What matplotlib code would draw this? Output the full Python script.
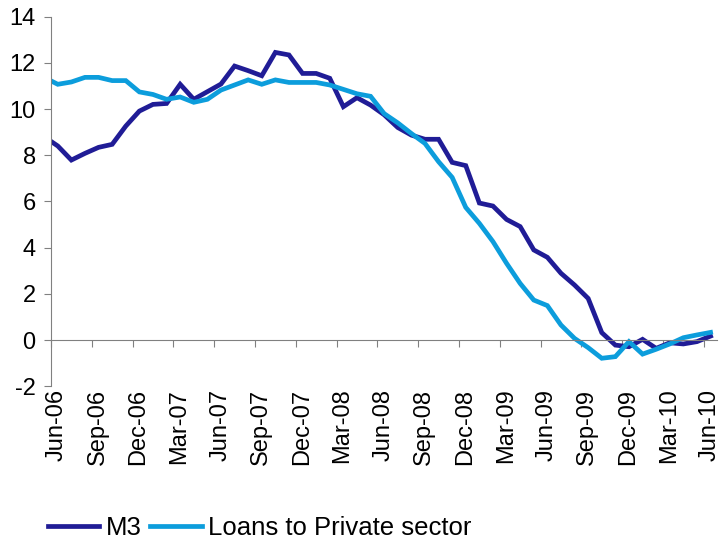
import matplotlib.pyplot as plt
import matplotlib.transforms as mtransforms
import numpy as np

plt.rcParams['font.family'] = ['Liberation Sans', 'DejaVu Sans']
plt.rcParams['axes.unicode_minus'] = False

# monthly growth rates (%), first value is May-06 (partly hidden behind the axis)
m3 = [8.8, 8.4, 7.79, 8.08, 8.34, 8.47, 9.26, 9.91, 10.2, 10.24,
      11.07, 10.42, 10.75, 11.08, 11.86, 11.66, 11.44, 12.45, 12.34, 11.54,
      11.54, 11.33, 10.1, 10.49, 10.17, 9.75, 9.2, 8.87, 8.69, 8.69,
      7.69, 7.55, 5.93, 5.8, 5.22, 4.91, 3.9, 3.58, 2.89, 2.38,
      1.8, 0.32, -0.22, -0.29, 0.03, -0.36, -0.12, -0.17, -0.07, 0.17]
loans = [11.37, 11.07, 11.17, 11.37, 11.37, 11.23, 11.23, 10.74, 10.63, 10.42,
         10.52, 10.29, 10.42, 10.82, 11.04, 11.26, 11.07, 11.26, 11.15, 11.15,
         11.15, 11.04, 10.85, 10.66, 10.55, 9.8, 9.4, 8.94, 8.51, 7.72,
         7.04, 5.74, 5.05, 4.26, 3.32, 2.45, 1.73, 1.49, 0.65, 0.07,
         -0.33, -0.79, -0.72, -0.07, -0.61, -0.4, -0.17, 0.1, 0.22, 0.33]
tick_labels = ['Jun-06', 'Sep-06', 'Dec-06', 'Mar-07', 'Jun-07', 'Sep-07',
               'Dec-07', 'Mar-08', 'Jun-08', 'Sep-08', 'Dec-08', 'Mar-09',
               'Jun-09', 'Sep-09', 'Dec-09', 'Mar-10', 'Jun-10']

# points sit in the middle of each month slot
x = np.arange(len(m3)) - 0.5

fig = plt.figure(figsize=(7.23, 5.41), dpi=100)
ax = fig.add_axes([0.0705, 0.2861, 0.9217, 0.6832])

ax.plot(x, m3, color='#201c96', lw=3.4, label='M3', solid_joinstyle='miter')
ax.plot(x, loans, color='#0c9ddc', lw=3.4, label='Loans to Private sector',
        solid_joinstyle='miter')

ax.set_xlim(0, 49)
ax.set_ylim(-2, 14)
ax.set_yticks(range(-2, 15, 2))
ax.set_xticks(np.arange(0, 49, 3))
ax.set_xticklabels(tick_labels)

for s in ['top', 'right']:
    ax.spines[s].set_visible(False)
ax.spines['bottom'].set_position(('data', 0))
ax.spines['left'].set_color('#808080')
ax.spines['bottom'].set_color('#808080')
ax.tick_params(axis='both', direction='out', length=5, color='#808080',
               labelsize=17)
ax.tick_params(axis='y', pad=6)
ax.tick_params(axis='x', pad=30, labelrotation=90)

# labels sit a little right of their ticks, like the original
shift = mtransforms.ScaledTranslation(6 / 100, 0, fig.dpi_scale_trans)
for lab in ax.get_xticklabels():
    lab.set_transform(lab.get_transform() + shift)

fig.legend(loc='center left', bbox_to_anchor=(0.066, 0.024), ncol=2,
           frameon=False, fontsize=18.5, handlelength=2.0,
           handletextpad=0.25, columnspacing=0.35, borderpad=0,
           borderaxespad=0)

fig.savefig('out.png', dpi=100)
